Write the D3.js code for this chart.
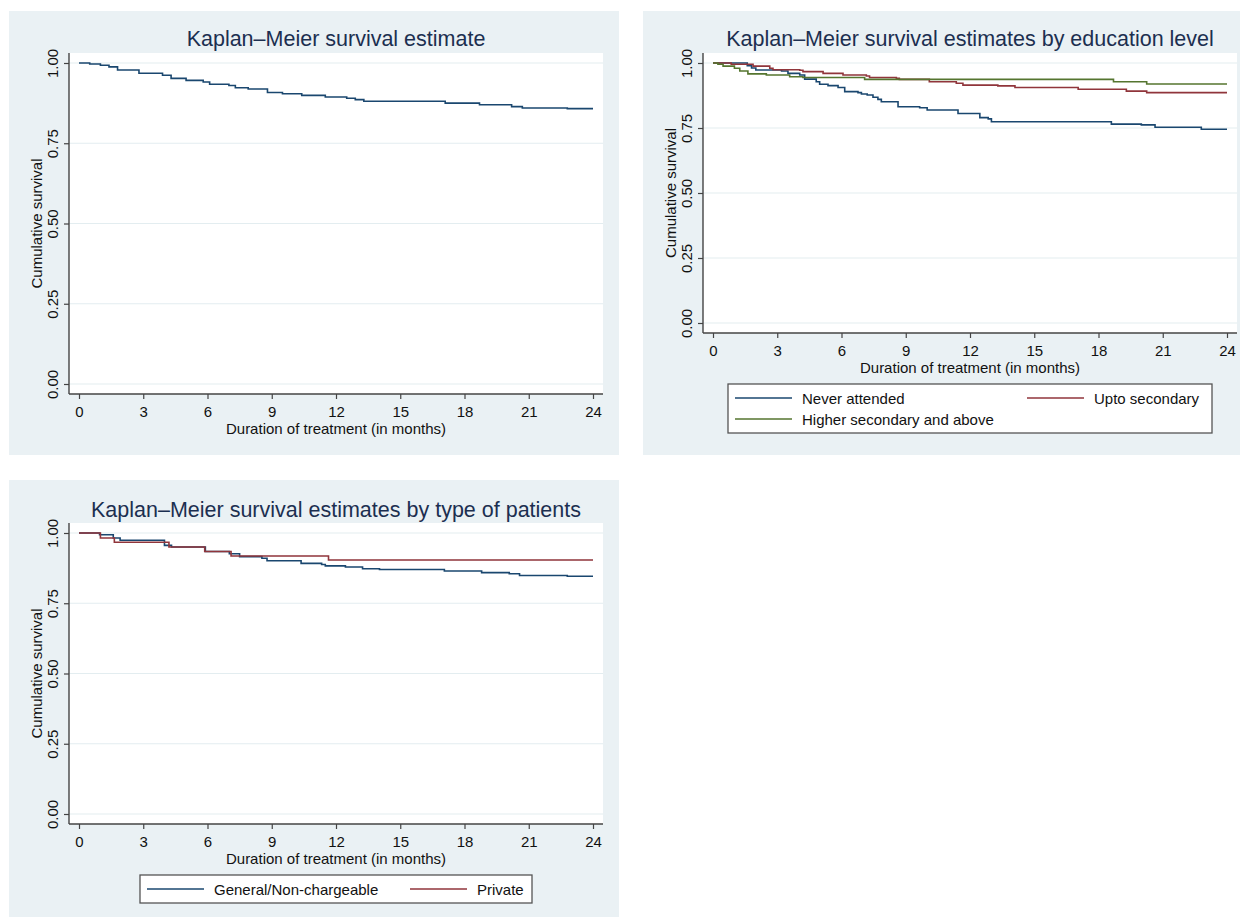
<!DOCTYPE html>
<html>
<head>
<meta charset="utf-8">
<script src="https://cdn.jsdelivr.net/npm/d3@7"></script>
<style>
  html, body { margin: 0; padding: 0; background: #ffffff; }
  svg { display: block; font-family: "Liberation Sans", Arial, sans-serif; }
</style>
</head>
<body>
<svg id="chart" width="1240" height="917"></svg>
<script>
// tick values shared by all three graphs
const xTicks = [0, 3, 6, 9, 12, 15, 18, 21, 24];
const yTicks = [0, 0.25, 0.5, 0.75, 1];

// overall KM estimate: [month, survival]
const overallSteps = [
  [0, 1.000], [0.5, 0.997], [1.0, 0.993], [1.4, 0.988], [1.8, 0.978], [2.8, 0.968],
  [3.9, 0.962], [4.3, 0.952], [5.0, 0.946], [5.8, 0.941], [6.1, 0.934], [7.0, 0.930],
  [7.3, 0.923], [7.9, 0.919], [8.8, 0.908], [9.5, 0.904], [10.4, 0.899], [11.5, 0.894],
  [12.5, 0.890], [12.9, 0.886], [13.3, 0.881], [17.1, 0.875], [18.7, 0.870],
  [20.2, 0.864], [20.7, 0.860], [22.8, 0.858], [24, 0.858]
];

// by education level
const neverAttended = [
  [0, 1.000], [1.6, 0.990], [1.8, 0.981], [2.0, 0.973], [3.2, 0.969], [3.5, 0.960],
  [4.05, 0.954], [4.28, 0.938], [4.82, 0.928], [4.98, 0.918], [5.37, 0.913],
  [5.84, 0.906], [6.15, 0.890], [6.77, 0.886], [6.93, 0.881], [7.2, 0.877],
  [7.47, 0.868], [7.7, 0.860], [7.86, 0.851], [8.64, 0.832], [9.65, 0.828],
  [10.0, 0.819], [11.44, 0.806], [12.46, 0.790], [12.85, 0.785], [13.0, 0.774],
  [18.6, 0.765], [20.0, 0.762], [20.64, 0.753], [22.8, 0.745], [24, 0.745]
];
const uptoSecondary = [
  [0, 1.000], [0.85, 0.995], [1.87, 0.988], [2.65, 0.980], [2.8, 0.974], [4.05, 0.972],
  [4.2, 0.967], [5.14, 0.960], [6.07, 0.954], [7.16, 0.950], [7.31, 0.944],
  [8.56, 0.941], [8.7, 0.937], [10.1, 0.928], [11.36, 0.922], [11.67, 0.915],
  [13.3, 0.912], [14.1, 0.906], [17.05, 0.899], [19.3, 0.892], [20.25, 0.886], [24, 0.886]
];
const higherSecondary = [
  [0, 1.000], [0.23, 0.995], [0.47, 0.988], [1.0, 0.980], [1.25, 0.969], [1.63, 0.958],
  [2.49, 0.954], [3.58, 0.947], [4.2, 0.944], [7.08, 0.937], [18.7, 0.928],
  [20.25, 0.919], [24, 0.919]
];

// by type of patients
const generalPatients = [
  [0, 1.000], [0.96, 0.994], [1.6, 0.982], [1.92, 0.974], [3.99, 0.956], [4.32, 0.950],
  [5.9, 0.934], [7.02, 0.926], [7.5, 0.916], [8.54, 0.910], [8.78, 0.901],
  [10.37, 0.892], [11.33, 0.888], [11.5, 0.883], [12.44, 0.879], [13.24, 0.873],
  [14.03, 0.870], [17.06, 0.865], [18.8, 0.859], [20.09, 0.855], [20.57, 0.849],
  [22.8, 0.846], [24, 0.846]
];
const privatePatients = [
  [0, 1.000], [1.0, 0.982], [1.65, 0.967], [4.2, 0.950], [5.87, 0.934],
  [7.1, 0.918], [11.65, 0.904], [24, 0.904]
];

const navy = "#1a476f", maroon = "#90353b", green = "#55752f";
const bgColor = "#eaf1f4", gridColor = "#e3edf0", axisColor = "#444";
const titleColor = "#1c2f50";

const svg = d3.select("#chart");

function drawPanel(cfg) {
  const g = svg.append("g");
  g.append("rect")
    .attr("x", cfg.bg[0]).attr("y", cfg.bg[1])
    .attr("width", cfg.bg[2]).attr("height", cfg.bg[3])
    .attr("fill", bgColor);

  const p = cfg.plot;
  g.append("rect")
    .attr("x", p.left).attr("y", p.top)
    .attr("width", p.right - p.left).attr("height", p.bottom - p.top)
    .attr("fill", "#fff");

  const x = d3.scaleLinear().domain([0, 24]).range([p.left + 10, p.right - 10]);
  const y = d3.scaleLinear().domain([0, 1]).range([p.bottom - 10, p.top + 10]);

  // grid
  g.append("g").selectAll("line").data(yTicks).enter().append("line")
    .attr("x1", p.left).attr("x2", p.right)
    .attr("y1", d => y(d)).attr("y2", d => y(d))
    .attr("stroke", gridColor).attr("stroke-width", 1.2);

  // title
  g.append("text")
    .attr("x", (p.left + p.right) / 2).attr("y", cfg.titleY)
    .attr("text-anchor", "middle")
    .attr("font-size", 21.5).attr("fill", titleColor)
    .text(cfg.title);

  // curves
  const line = d3.line()
    .curve(d3.curveStepAfter)
    .x(d => x(d[0]))
    .y(d => y(d[1]));
  cfg.series.forEach(s => {
    g.append("path")
      .attr("d", line(s.values))
      .attr("fill", "none")
      .attr("stroke", s.color)
      .attr("stroke-width", 1.6);
  });

  // x axis
  const xa = g.append("g")
    .attr("transform", `translate(0,${p.bottom})`)
    .call(d3.axisBottom(x).tickValues(xTicks).tickSize(5).tickSizeOuter(0));
  xa.select(".domain").remove();
  xa.selectAll("line").attr("stroke", axisColor).attr("stroke-width", 1.2);
  xa.selectAll("text")
    .attr("y", 23).attr("dy", 0)
    .attr("font-size", 15).attr("font-family", "Liberation Sans, Arial, sans-serif")
    .attr("fill", "#111");

  // y axis
  const ya = g.append("g")
    .attr("transform", `translate(${p.left},0)`)
    .call(d3.axisLeft(y).tickValues(yTicks).tickFormat(d3.format(".2f")).tickSize(5).tickSizeOuter(0));
  ya.select(".domain").remove();
  ya.selectAll("line").attr("stroke", axisColor).attr("stroke-width", 1.2);
  ya.selectAll("text")
    .attr("transform", "rotate(-90)")
    .attr("x", 0).attr("y", -11).attr("dy", 0)
    .attr("text-anchor", "middle")
    .attr("font-size", 15).attr("font-family", "Liberation Sans, Arial, sans-serif")
    .attr("fill", "#111");

  // axis lines
  g.append("line")
    .attr("x1", p.left).attr("x2", p.right)
    .attr("y1", p.bottom).attr("y2", p.bottom)
    .attr("stroke", axisColor).attr("stroke-width", 1.4);
  g.append("line")
    .attr("x1", p.left).attr("x2", p.left)
    .attr("y1", p.top).attr("y2", p.bottom)
    .attr("stroke", axisColor).attr("stroke-width", 1.4);

  // axis titles
  g.append("text")
    .attr("x", (p.left + p.right) / 2).attr("y", p.bottom + 40)
    .attr("text-anchor", "middle").attr("font-size", 15).attr("fill", "#111")
    .text("Duration of treatment (in months)");
  g.append("text")
    .attr("transform", `translate(${p.left - 27},${(p.top + p.bottom) / 2}) rotate(-90)`)
    .attr("text-anchor", "middle").attr("font-size", 15).attr("fill", "#111")
    .text("Cumulative survival");

  // legend
  if (cfg.legend) {
    const lg = cfg.legend;
    g.append("rect")
      .attr("x", lg.box[0]).attr("y", lg.box[1])
      .attr("width", lg.box[2]).attr("height", lg.box[3])
      .attr("fill", "#fff").attr("stroke", "#555").attr("stroke-width", 1.3);
    lg.items.forEach(it => {
      g.append("line")
        .attr("x1", it.x).attr("x2", it.x + 57)
        .attr("y1", it.y).attr("y2", it.y)
        .attr("stroke", it.color).attr("stroke-width", 1.6);
      g.append("text")
        .attr("x", it.x + 67).attr("y", it.y + 6)
        .attr("font-size", 15).attr("fill", "#111")
        .text(it.label);
    });
  }
}

drawPanel({
  bg: [9, 11, 610, 444],
  plot: { left: 69, right: 603, top: 53, bottom: 394 },
  title: "Kaplan–Meier survival estimate",
  titleY: 46,
  series: [{ values: overallSteps, color: navy }]
});

drawPanel({
  bg: [643, 11, 597, 444],
  plot: { left: 703, right: 1237, top: 53, bottom: 333 },
  title: "Kaplan–Meier survival estimates by education level",
  titleY: 46,
  series: [
    { values: neverAttended, color: navy },
    { values: uptoSecondary, color: maroon },
    { values: higherSecondary, color: green }
  ],
  legend: {
    box: [728, 384, 484, 49],
    items: [
      { x: 735, y: 398, color: navy, label: "Never attended" },
      { x: 1027, y: 398, color: maroon, label: "Upto secondary" },
      { x: 735, y: 419, color: green, label: "Higher secondary and above" }
    ]
  }
});

drawPanel({
  bg: [9, 480, 610, 437],
  plot: { left: 69, right: 603, top: 523, bottom: 824 },
  title: "Kaplan–Meier survival estimates by type of patients",
  titleY: 517,
  series: [
    { values: generalPatients, color: navy },
    { values: privatePatients, color: maroon }
  ],
  legend: {
    box: [140, 875, 392, 28],
    items: [
      { x: 147, y: 889, color: navy, label: "General/Non-chargeable" },
      { x: 410, y: 889, color: maroon, label: "Private" }
    ]
  }
});
</script>
</body>
</html>
